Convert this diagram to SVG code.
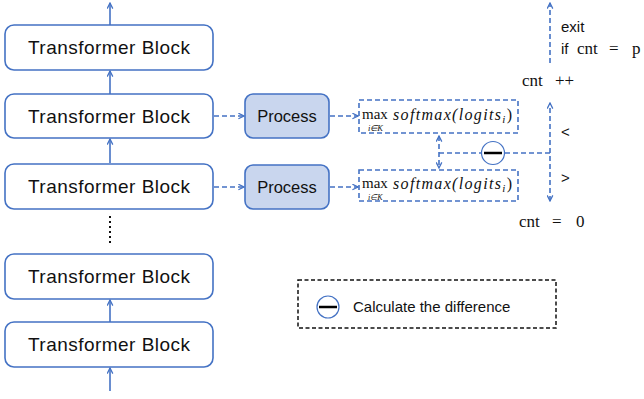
<svg xmlns="http://www.w3.org/2000/svg" width="644" height="399" viewBox="0 0 644 399">
<style>
.tb rect{fill:#fff;stroke:#4472C4;stroke-width:1.6}
.tb text{font-family:"Liberation Sans",Arial,sans-serif;font-size:19px;fill:#111;text-anchor:middle}
.pr rect{fill:#C9D6EE;stroke:#4472C4;stroke-width:1.6}
.pr text{font-family:"Liberation Sans",Arial,sans-serif;font-size:16.5px;fill:#111;text-anchor:middle}
.mx rect{fill:#fff;stroke:#4472C4;stroke-width:1.6;stroke-dasharray:5 3}
.m{font-family:"Liberation Serif","Times New Roman",serif;fill:#111}
.sl{stroke:#4472C4;stroke-width:1.6;fill:none}
.dl{stroke:#4472C4;stroke-width:1.6;fill:none;stroke-dasharray:5 3}
.lbl{font-family:"Liberation Sans",Arial,sans-serif;font-size:15px;fill:#111}
</style>
<defs>
<marker id="ah" viewBox="0 0 10 10" refX="9" refY="5" markerWidth="7" markerHeight="7" orient="auto-start-reverse" markerUnits="userSpaceOnUse">
<path d="M1,1 L9,5 L1,9" fill="none" stroke="#4472C4" stroke-width="1.8"/>
</marker>
</defs>
<g id="connectors">
<line class="sl" x1="110" y1="25" x2="110" y2="3" marker-end="url(#ah)"/>
<line class="sl" x1="110" y1="94" x2="110" y2="71" marker-end="url(#ah)"/>
<line class="sl" x1="110" y1="163" x2="110" y2="139" marker-end="url(#ah)"/>
<line x1="110" y1="216" x2="110" y2="246" stroke="#111" stroke-width="2" stroke-dasharray="2 3"/>
<line class="sl" x1="110" y1="322" x2="110" y2="300" marker-end="url(#ah)"/>
<line class="sl" x1="110" y1="391" x2="110" y2="368" marker-end="url(#ah)"/>
<line class="dl" x1="214" y1="116" x2="244" y2="116" marker-end="url(#ah)"/>
<line class="dl" x1="214" y1="187" x2="244" y2="187" marker-end="url(#ah)"/>
<line class="dl" x1="330" y1="116" x2="358" y2="116" marker-end="url(#ah)"/>
<line class="dl" x1="330" y1="187" x2="358" y2="187" marker-end="url(#ah)"/>
<line class="dl" x1="439" y1="136" x2="439" y2="168" marker-start="url(#ah)" marker-end="url(#ah)"/>
<line class="dl" x1="439" y1="153" x2="481" y2="153"/>
<line class="dl" x1="505" y1="153" x2="550" y2="153"/>
<line class="dl" x1="550" y1="201" x2="550" y2="103" marker-start="url(#ah)" marker-end="url(#ah)"/>
<line class="dl" x1="550" y1="63" x2="550" y2="3" marker-end="url(#ah)"/>
</g>
<g id="tb1" class="tb"><rect x="5" y="25" width="208" height="45" rx="9"/><text x="109" y="54" textLength="162">Transformer Block</text></g>
<g id="tb2" class="tb"><rect x="5" y="94" width="208" height="44" rx="9"/><text x="109" y="123" textLength="162">Transformer Block</text></g>
<g id="tb3" class="tb"><rect x="5" y="164" width="208" height="45" rx="9"/><text x="109" y="193" textLength="162">Transformer Block</text></g>
<g id="tb4" class="tb"><rect x="5" y="254" width="208" height="45" rx="9"/><text x="109" y="283" textLength="162">Transformer Block</text></g>
<g id="tb5" class="tb"><rect x="5" y="322" width="208" height="45" rx="9"/><text x="109" y="351" textLength="162">Transformer Block</text></g>
<g id="pr1" class="pr"><rect x="245" y="94" width="84" height="44" rx="8"/><text x="287" y="122">Process</text></g>
<g id="pr2" class="pr"><rect x="245" y="165" width="84" height="44" rx="8"/><text x="287" y="193">Process</text></g>
<g id="mx1" class="mx"><rect x="359" y="100" width="159" height="33"/>
<text class="m" x="362" y="119" font-size="15">max</text><text class="m" x="368" y="131" font-size="8.5" font-style="italic">i∈K</text>
<text class="m" x="393" y="120" font-size="16" font-style="italic" textLength="119" lengthAdjust="spacing">softmax(logits<tspan font-size="11" dy="3">i</tspan><tspan dy="-3" font-style="normal">)</tspan></text></g>
<g id="mx2" class="mx"><rect x="359" y="170" width="159" height="31"/>
<text class="m" x="362" y="187.5" font-size="15">max</text><text class="m" x="368" y="199.5" font-size="8" font-style="italic">i∈K</text>
<text class="m" x="393" y="189" font-size="16" font-style="italic" textLength="119" lengthAdjust="spacing">softmax(logits<tspan font-size="11" dy="3">i</tspan><tspan dy="-3" font-style="normal">)</tspan></text></g>
<g id="minus"><circle cx="493" cy="153" r="11.5" fill="#fff" stroke="#4472C4" stroke-width="1.2"/><line x1="484" y1="153" x2="502" y2="153" stroke="#000" stroke-width="2.5"/></g>
<g id="labels">
<text class="lbl" x="561" y="32">exit</text>
<text class="lbl" x="561" y="54">if</text>
<text class="m" y="54" font-size="17"><tspan x="577">cnt</tspan><tspan x="609">=</tspan><tspan x="632">p</tspan></text>
<text class="m" y="86" font-size="17"><tspan x="522">cnt</tspan><tspan x="555">++</tspan></text>
<text class="lbl" x="561" y="137" font-size="16">&lt;</text>
<text class="lbl" x="561" y="183" font-size="16">&gt;</text>
<text class="m" y="227" font-size="17"><tspan x="519">cnt</tspan><tspan x="552">=</tspan><tspan x="576">0</tspan></text>
</g>
<g id="legend">
<rect x="298" y="280" width="258" height="48" fill="#fff" stroke="#111" stroke-width="1.5" stroke-dasharray="4 2.5"/>
<circle cx="328" cy="307" r="11" fill="#fff" stroke="#4472C4" stroke-width="1.2"/>
<line x1="319" y1="307" x2="337" y2="307" stroke="#000" stroke-width="2.5"/>
<text class="lbl" x="353" y="312" font-size="16">Calculate the difference</text>
</g>
</svg>
